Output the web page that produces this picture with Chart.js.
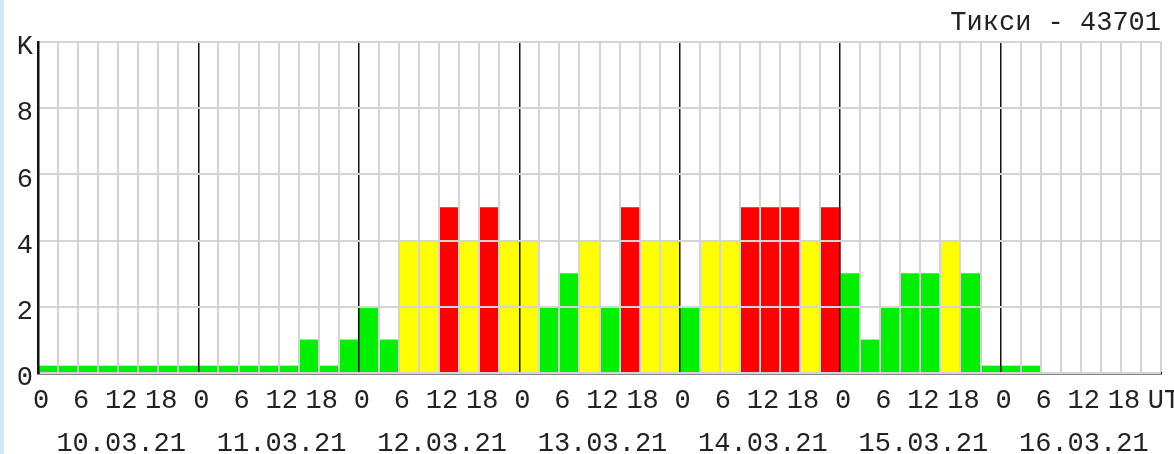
<!DOCTYPE html>
<html>
<head>
<meta charset="utf-8">
<script src="https://cdn.jsdelivr.net/npm/chart.js@4.4.1/dist/chart.umd.min.js"></script>
<style>
	html, body { margin: 0; padding: 0; background: #fff; overflow: hidden; }
	body { border-left: 4px solid #d3e7f8; }
	.canvas-container { position: relative; width: 1190px; height: 454px; }
</style>
</head>
<body>
<div class="canvas-container">
	<canvas id="chart"></canvas>
</div>
<script>
const stationTitle = "Тикси - 43701";
const dayLabels = ["10.03.21", "11.03.21", "12.03.21", "13.03.21", "14.03.21", "15.03.21", "16.03.21"];
const slotHours = ["00", "03", "06", "09", "12", "15", "18", "21"];
const hourLabels = ["0", "6", "12", "18"];
const endLabel = "UT";

// K index, 8 three-hour intervals per day (null = no data yet)
const kValues = [
	0, 0, 0, 0, 0, 0, 0, 0,
	0, 0, 0, 0, 0, 1, 0, 1,
	2, 1, 4, 4, 5, 4, 5, 4,
	4, 2, 3, 4, 2, 5, 4, 4,
	2, 4, 4, 5, 5, 5, 4, 5,
	3, 1, 2, 3, 3, 4, 3, 0,
	0, 0, null, null, null, null, null, null,
];

const slotLabels = dayLabels.flatMap((d) => slotHours.map((h) => d + " " + h));
const totalHours = dayLabels.length * 24;

const font = { family: "'Liberation Mono', monospace", size: 27, lineHeight: 1 };
const textColor = "#222";
const gridColor = "#d4d4d4";

function barColor(v) {
	if (v >= 5) return "#ff0000";
	if (v >= 4) return "#ffff00";
	return "#00f000";
}

// day boundaries get a dark line, other slots a light one
function isDayLine(c) {
	return c.index % 8 === 0 && c.index > 0 && c.index < kValues.length;
}

const ctx = document.getElementById("chart").getContext("2d");
new Chart(ctx, {
	type: "bar",
	data: {
		labels: slotLabels,
		datasets: [
			{
				label: "K",
				data: kValues,
				backgroundColor: kValues.map(barColor),
				borderWidth: 0,
				barPercentage: 1,
				categoryPercentage: 1,
				minBarLength: 7,
			},
		],
	},
	options: {
		responsive: true,
		maintainAspectRatio: false,
		animation: false,
		layout: { padding: { left: 0, right: 33, top: 0, bottom: 0 } },
		plugins: {
			legend: { display: false },
			tooltip: { enabled: false },
			title: {
				display: true,
				text: stationTitle,
				align: "end",
				color: textColor,
				font: { ...font, weight: "normal" },
				padding: { top: 9, bottom: 6 },
			},
		},
		scales: {
			x: {
				type: "category",
				position: "bottom",
				weight: 0,
				ticks: { display: false },
				grid: {
					z: 1,
					drawTicks: false,
					lineWidth: (c) => (isDayLine(c) ? 1.5 : 2),
					color: (c) => (isDayLine(c) ? "#111" : gridColor),
				},
				border: { z: 1, color: "#111", width: 2.5 },
				afterFit: (s) => { s.height = 0; },
			},
			hours: {
				type: "linear",
				position: "bottom",
				weight: 1,
				offset: false,
				min: 0,
				max: totalHours,
				ticks: {
					stepSize: 6,
					maxTicksLimit: 100,
					autoSkip: false,
					maxRotation: 0,
					padding: 14,
					labelOffset: 3,
					color: textColor,
					font: font,
					callback: (v) => (v === totalHours ? endLabel : hourLabels[(v % 24) / 6]),
				},
				grid: { display: false, drawTicks: false },
				border: { display: false },
				afterFit: (s) => { s.height = 42; },
			},
			days: {
				type: "category",
				position: "bottom",
				weight: 2,
				labels: dayLabels,
				offset: true,
				ticks: {
					autoSkip: false,
					maxRotation: 0,
					padding: 15,
					labelOffset: 3,
					color: textColor,
					font: font,
				},
				grid: { display: false, drawTicks: false },
				border: { display: false },
				afterFit: (s) => { s.height = 39; },
			},
			y: {
				min: 0,
				max: 10,
				ticks: {
					stepSize: 2,
					padding: 5,
					labelOffset: 5,
					color: textColor,
					font: font,
					callback: (v) => (v === 10 ? "K" : v),
				},
				grid: { z: 1, drawTicks: false, color: gridColor, lineWidth: 2 },
				border: { z: 1, color: "#111", width: 2.5 },
				afterFit: (s) => { s.width = 34; },
			},
		},
	},
});
</script>
</body>
</html>
